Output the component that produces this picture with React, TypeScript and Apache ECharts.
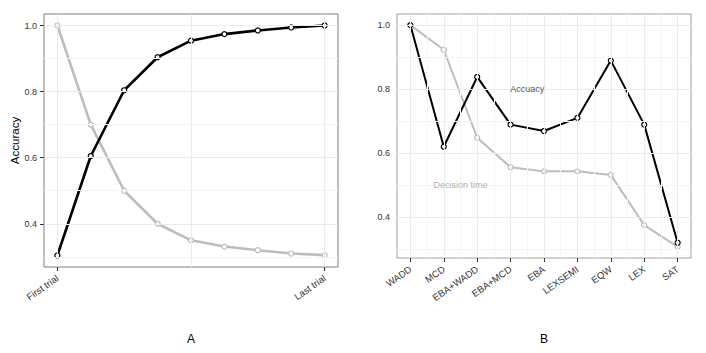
import React, { useEffect, useRef } from "react";
import * as echarts from "echarts";

// ---- Panel A data ----
const trialIndex = [1, 2, 3, 4, 5, 6, 7, 8, 9];
const trialTickValues = [1, 9];
const trialTickLabels = ["First trial", "Last trial"];
const trialGridValues = [1, 5, 9];
const accuracyA = [0.304, 0.605, 0.804, 0.904, 0.954, 0.974, 0.985, 0.994, 1.0];
const decisionTimeA = [1.0, 0.7, 0.5, 0.4, 0.35, 0.331, 0.32, 0.31, 0.305];

// ---- Panel B data ----
const strategies = ["WADD", "MCD", "EBA+WADD", "EBA+MCD", "EBA", "LEXSEMI", "EQW", "LEX", "SAT"];
const accuracyB = [1.0, 0.62, 0.838, 0.689, 0.669, 0.71, 0.889, 0.689, 0.32];
const decisionTimeB = [1.0, 0.923, 0.648, 0.556, 0.543, 0.543, 0.532, 0.375, 0.307];

// ---- Ticks / grid ----
const yTicks = [0.4, 0.6, 0.8, 1.0];
const yMinorGrid = [0.3, 0.5, 0.7, 0.9];
const annotationTexts = ["Accuacy", "Decision time"];
const annotationX = [3.5, 1.5];
const annotationY = [0.8, 0.5];

const FONT = "'Liberation Sans', Arial, Helvetica, sans-serif";

function rangeOf(a: number[], b: number[]) {
  const all = a.concat(b);
  const lo = Math.min(...all);
  const hi = Math.max(...all);
  const pad = (hi - lo) * 0.05;
  return [lo - pad, hi + pad];
}

export default function App() {
  const ref = useRef<HTMLDivElement>(null);

  useEffect(() => {
    if (!ref.current) return;
    const chart = echarts.init(ref.current, undefined, { renderer: "svg" });

    const [aMin, aMax] = rangeOf(accuracyA, decisionTimeA);
    const [bMin, bMax] = rangeOf(accuracyB, decisionTimeB);
    const bIdx = strategies.map((_, i) => i);

    const gridLine = (color: string) => ({ type: "solid" as const, width: 1, color });
    const hLines = (vals: number[], color: string) =>
      vals.map((v) => ({ yAxis: v, lineStyle: gridLine(color) }));
    const vLines = (vals: number[], color: string) =>
      vals.map((v) => ({ xAxis: v, lineStyle: gridLine(color) }));

    const bMinorX = bIdx.slice(0, -1).map((i) => i + 0.5);

    const yAxisCommon = (min: number, max: number, gridIndex: number) => ({
      type: "value" as const,
      gridIndex,
      min,
      max,
      axisLine: { show: false },
      splitLine: { show: false },
      axisTick: { show: true, customValues: yTicks, length: 4, lineStyle: { color: "#333", width: 1 } },
      axisLabel: {
        customValues: yTicks,
        formatter: (v: number) => v.toFixed(1),
        fontSize: 9,
        color: "#333",
        margin: 7,
        fontFamily: FONT,
      },
    });

    const xLabel = {
      rotate: 35,
      fontSize: 9.5,
      color: "#333",
      margin: 10,
      fontFamily: FONT,
    };

    const pointStyle = (color: string) => ({ color: "#fff", borderColor: color, borderWidth: 1.2 });

    const option: any = {
      animation: false,
      textStyle: { fontFamily: FONT },
      grid: [
        { left: 44, top: 14, width: 294, height: 253, show: true, borderColor: "#7f7f7f", borderWidth: 1, backgroundColor: "transparent" },
        { left: 397, top: 14, width: 294, height: 244, show: true, borderColor: "#a0a0a0", borderWidth: 1, backgroundColor: "transparent" },
      ],
      xAxis: [
        {
          type: "value",
          gridIndex: 0,
          min: 0.6,
          max: 9.4,
          axisLine: { show: false, onZero: false },
          splitLine: { show: false },
          axisTick: { show: true, customValues: trialTickValues, length: 4, lineStyle: { color: "#333" } },
          axisLabel: {
            ...xLabel,
            customValues: trialTickValues,
            formatter: (v: number) => trialTickLabels[trialTickValues.indexOf(v)] ?? "",
          },
          name: "A",
          nameLocation: "middle",
          nameGap: 66,
          nameTextStyle: { fontSize: 12, color: "#000", fontFamily: FONT },
        },
        {
          type: "value",
          gridIndex: 1,
          min: -0.4,
          max: strategies.length - 1 + 0.4,
          axisLine: { show: false, onZero: false },
          splitLine: { show: false },
          axisTick: { show: true, customValues: bIdx, length: 4, lineStyle: { color: "#333" } },
          axisLabel: {
            ...xLabel,
            customValues: bIdx,
            formatter: (v: number) => strategies[Math.round(v)] ?? "",
          },
          name: "B",
          nameLocation: "middle",
          nameGap: 75,
          nameTextStyle: { fontSize: 12, color: "#000", fontFamily: FONT },
        },
      ],
      yAxis: [
        {
          ...yAxisCommon(aMin, aMax, 0),
          name: "Accuracy",
          nameLocation: "middle",
          nameGap: 22,
          nameTextStyle: { fontSize: 11.5, color: "#000", fontFamily: FONT },
        },
        yAxisCommon(bMin, bMax, 1),
      ],
      series: [
        {
          type: "line",
          xAxisIndex: 0,
          yAxisIndex: 0,
          data: [],
          z: 0,
          silent: true,
          markLine: {
            silent: true,
            symbol: "none",
            label: { show: false },
            animation: false,
            data: [
              ...hLines(yMinorGrid, "#f5f5f5"),
              ...hLines(yTicks, "#ebebeb"),
              ...vLines(trialGridValues, "#ebebeb"),
            ],
          },
        },
        {
          type: "line",
          xAxisIndex: 1,
          yAxisIndex: 1,
          data: [],
          z: 0,
          silent: true,
          markLine: {
            silent: true,
            symbol: "none",
            label: { show: false },
            animation: false,
            data: [
              ...hLines(yMinorGrid, "#f5f5f5"),
              ...vLines(bMinorX, "#f5f5f5"),
              ...hLines(yTicks, "#ebebeb"),
              ...vLines(bIdx, "#ebebeb"),
            ],
          },
        },
        {
          name: "Decision time A",
          type: "line",
          xAxisIndex: 0,
          yAxisIndex: 0,
          data: trialIndex.map((x, i) => [x, decisionTimeA[i]]),
          lineStyle: { color: "#bdbdbd", width: 2.6 },
          symbol: "circle",
          symbolSize: 5,
          itemStyle: pointStyle("#bdbdbd"),
          z: 3,
        },
        {
          name: "Accuracy A",
          type: "line",
          xAxisIndex: 0,
          yAxisIndex: 0,
          data: trialIndex.map((x, i) => [x, accuracyA[i]]),
          lineStyle: { color: "#000", width: 2.6 },
          symbol: "circle",
          symbolSize: 5,
          itemStyle: pointStyle("#000"),
          z: 4,
        },
        {
          name: "Decision time B",
          type: "line",
          xAxisIndex: 1,
          yAxisIndex: 1,
          data: bIdx.map((x, i) => [x, decisionTimeB[i]]),
          lineStyle: { color: "#bdbdbd", width: 2 },
          symbol: "circle",
          symbolSize: 5,
          itemStyle: pointStyle("#bdbdbd"),
          z: 3,
        },
        {
          name: "Accuracy B",
          type: "line",
          xAxisIndex: 1,
          yAxisIndex: 1,
          data: bIdx.map((x, i) => [x, accuracyB[i]]),
          lineStyle: { color: "#000", width: 2 },
          symbol: "circle",
          symbolSize: 5,
          itemStyle: pointStyle("#000"),
          z: 4,
        },
        {
          type: "scatter",
          xAxisIndex: 1,
          yAxisIndex: 1,
          silent: true,
          symbolSize: 1,
          itemStyle: { color: "rgba(0,0,0,0)" },
          data: annotationTexts.map((t, i) => ({
            name: t,
            value: [annotationX[i], annotationY[i]],
            label: { color: i === 0 ? "#222" : "#999" },
          })),
          label: {
            show: true,
            position: "inside",
            formatter: "{b}",
            fontSize: 9,
            fontFamily: FONT,
          },
          z: 5,
        },
      ],
    };

    chart.setOption(option);
    return () => chart.dispose();
  }, []);

  return (
    <div
      ref={ref}
      style={{ position: "fixed", left: 0, top: 0, width: 706, height: 353, background: "#fff" }}
    />
  );
}
